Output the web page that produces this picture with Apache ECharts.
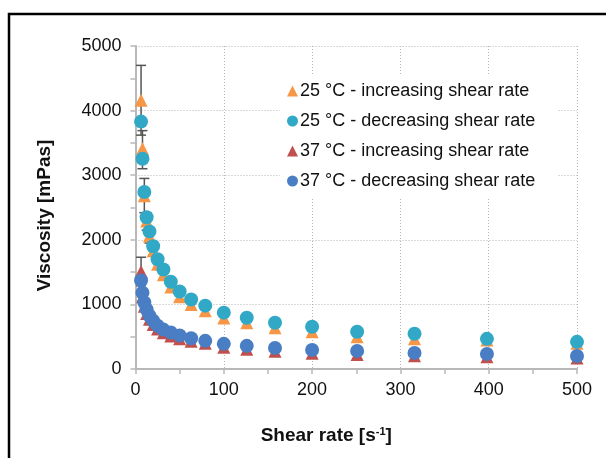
<!DOCTYPE html>
<html lang="en">
<head>
    <meta charset="UTF-8">
    <title>Viscosity vs shear rate</title>
    <script src="https://cdn.jsdelivr.net/npm/echarts@6.0.0/dist/echarts.min.js"></script>
    <style>
        html, body { margin: 0; padding: 0; background: #fff; }
        #chart { width: 606px; height: 458px; }
    </style>
</head>
<body>
    <div id="chart"></div>
    <script type="text/javascript">
    // shear rates [1/s] (same for every series)
    var shearRate = [6.3, 7.9, 10, 12.6, 15.8, 20, 25, 31.6, 40, 50, 63, 79, 100, 126, 158, 200, 251, 316, 398, 500];

    // viscosity [mPas]
    var inc25 = [4160, 3410, 2680, 2290, 2060, 1830, 1620, 1460, 1270, 1120, 1000, 900, 790, 715, 640, 575, 500, 470, 450, 400];
    var dec25 = [3830, 3255, 2740, 2350, 2130, 1900, 1700, 1540, 1350, 1200, 1075, 981, 872, 794, 716, 654, 576, 545, 467, 420];
    var inc37 = [1510, 1120, 970, 860, 770, 690, 620, 560, 510, 470, 430, 400, 335, 305, 275, 245, 225, 205, 190, 170];
    var dec37 = [1370, 1180, 1030, 920, 825, 748, 670, 610, 565, 520, 475, 436, 389, 358, 327, 296, 280, 249, 234, 202];

    // error bars [x, low, high]
    var errBars = [
        [6.3, 3620, 4700],
        [7.9, 3100, 3690],
        [10, 2420, 2950],
        [12.6, 2150, 2420],
        [15.8, 1950, 2150],
        [6.3, 1290, 1730]
    ];

    var xTicks = [0, 100, 200, 300, 400, 500];
    var yTicks = [0, 1000, 2000, 3000, 4000, 5000];

    var legendNames = [
        '25 °C - increasing shear rate',
        '25 °C - decreasing shear rate',
        '37 °C - increasing shear rate',
        '37 °C - decreasing shear rate'
    ];

    function pairs(ys) {
        return shearRate.map(function (x, i) { return [x, ys[i]]; });
    }

    var chart = echarts.init(document.getElementById('chart'), null, { renderer: 'canvas' });

    var fontFam = '"Liberation Sans", Arial, sans-serif';
    var gridLine = { show: true, lineStyle: { color: '#b4b4b4', type: [1, 2], width: 1 } };
    var axisGrey = '#b8b8b8';

    var option = {
        backgroundColor: '#ffffff',
        animation: false,
        textStyle: { fontFamily: fontFam },
        graphic: [{
            type: 'rect',
            shape: { x: 9, y: 14, width: 640, height: 480 },
            style: { fill: 'none', stroke: '#000', lineWidth: 2.5 },
            z: 100
        }],
        grid: { left: 135.5, right: 29, top: 46, bottom: 89 },
        legend: {
            orient: 'vertical',
            left: 280,
            top: 75,
            itemWidth: 11,
            itemHeight: 11,
            itemGap: 12,
            padding: [7, 22, 7, 7],
            backgroundColor: '#ffffff',
            data: legendNames,
            textStyle: { fontSize: 18, color: '#111', fontFamily: fontFam, padding: [0, 0, 0, -3] }
        },
        xAxis: {
            type: 'value',
            min: 0, max: 500, interval: 100,
            axisLine: { show: true, lineStyle: { color: axisGrey, width: 2 } },
            axisTick: { show: true, length: 5, lineStyle: { color: axisGrey, width: 1.5 } },
            minorTick: { show: true, splitNumber: 2, length: 5, lineStyle: { color: axisGrey, width: 1.5 } },
            splitLine: gridLine,
            axisLabel: {
                fontSize: 18, color: '#111', margin: 12,
                formatter: function (v) { return xTicks.indexOf(v) >= 0 ? String(v) : ''; }
            },
            name: '{t|Shear rate [s}{s|-1}{t|]}',
            nameLocation: 'middle',
            nameGap: 57,
            nameTextStyle: {
                padding: [0, 60, 0, 0],
                rich: {
                    t: { fontSize: 19, fontWeight: 'bold', color: '#111', fontFamily: fontFam },
                    s: { fontSize: 11, fontWeight: 'bold', color: '#111', fontFamily: fontFam, verticalAlign: 'top', padding: [0, 0, 9, 0] }
                }
            }
        },
        yAxis: {
            type: 'value',
            min: 0, max: 5000, interval: 1000,
            axisLine: { show: true, lineStyle: { color: axisGrey, width: 2 } },
            axisTick: { show: true, length: 5, lineStyle: { color: axisGrey, width: 1.5 } },
            minorTick: { show: true, splitNumber: 2, length: 5, lineStyle: { color: axisGrey, width: 1.5 } },
            splitLine: gridLine,
            axisLabel: {
                fontSize: 18, color: '#111', margin: 14,
                formatter: function (v) { return yTicks.indexOf(v) >= 0 ? String(v) : ''; }
            },
            name: 'Viscosity [mPas]',
            nameLocation: 'middle',
            nameGap: 81,
            nameTextStyle: { fontSize: 19, fontWeight: 'bold', color: '#111', fontFamily: fontFam, padding: [0, 16, 0, 0] }
        },
        series: [
            {
                // error bars drawn under the markers
                type: 'custom',
                name: 'err',
                silent: true,
                z: 1,
                data: errBars,
                renderItem: function (params, api) {
                    var x = api.value(0);
                    var lo = api.coord([x, api.value(1)]);
                    var hi = api.coord([x, api.value(2)]);
                    var w = 5;
                    var st = { stroke: '#555', lineWidth: 1.5 };
                    return {
                        type: 'group',
                        children: [
                            { type: 'line', shape: { x1: lo[0], y1: lo[1], x2: hi[0], y2: hi[1] }, style: st },
                            { type: 'line', shape: { x1: lo[0] - w, y1: lo[1], x2: lo[0] + w, y2: lo[1] }, style: st },
                            { type: 'line', shape: { x1: hi[0] - w, y1: hi[1], x2: hi[0] + w, y2: hi[1] }, style: st }
                        ]
                    };
                }
            },
            {
                name: legendNames[0], type: 'scatter', symbol: 'triangle', symbolSize: 13, z: 2,
                itemStyle: { color: '#F79646', opacity: 1 },
                data: pairs(inc25)
            },
            {
                name: legendNames[1], type: 'scatter', symbol: 'circle', symbolSize: 14, z: 3,
                itemStyle: { color: '#31A9C6', opacity: 1 },
                data: pairs(dec25)
            },
            {
                name: legendNames[2], type: 'scatter', symbol: 'triangle', symbolSize: 13, z: 2,
                itemStyle: { color: '#C0504D', opacity: 1 },
                data: pairs(inc37)
            },
            {
                name: legendNames[3], type: 'scatter', symbol: 'circle', symbolSize: 14, z: 3,
                itemStyle: { color: '#4A7EC4', opacity: 1 },
                data: pairs(dec37)
            }
        ]
    };

    chart.setOption(option);
    </script>
</body>
</html>
